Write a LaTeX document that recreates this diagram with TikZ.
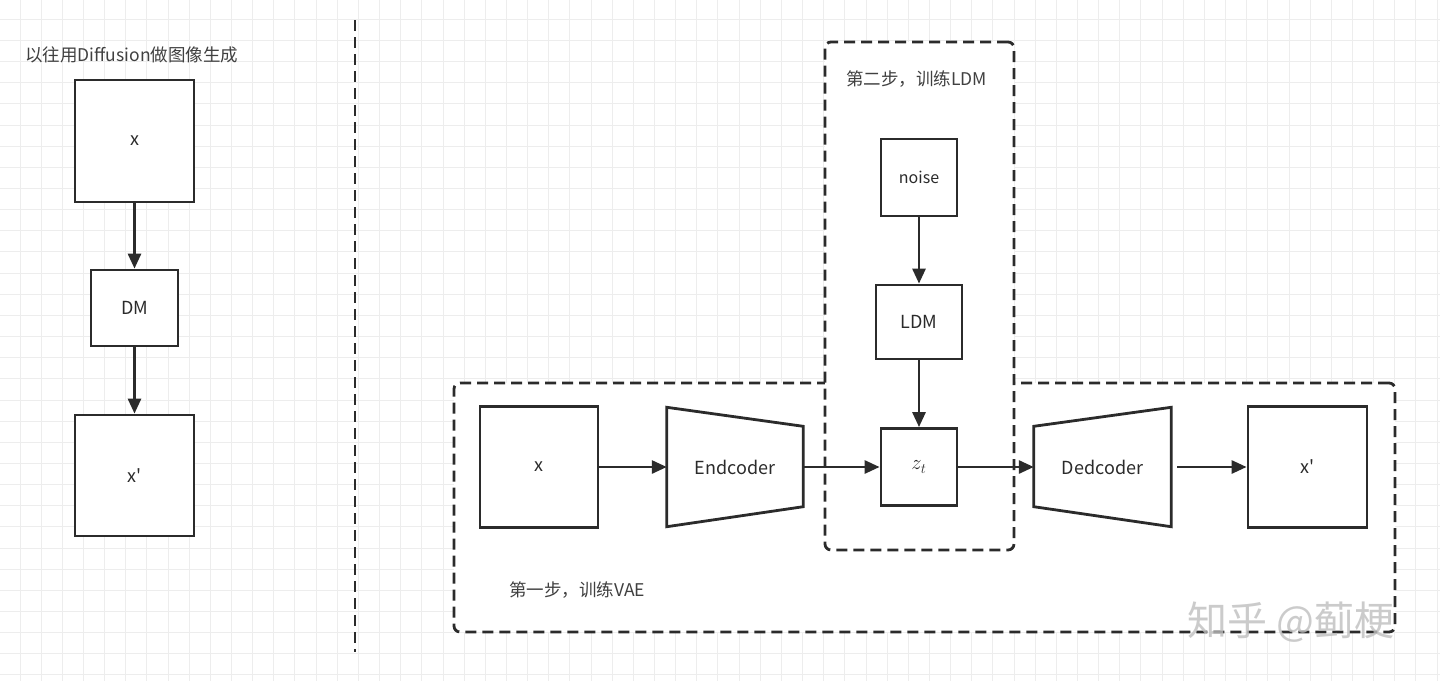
\documentclass[tikz,border=0pt]{standalone}
\usepackage{fontspec}
\setmainfont{Noto Sans CJK SC}
\usetikzlibrary{arrows.meta,positioning,calc}

\definecolor{ink}{HTML}{2B2B2B}
\definecolor{gridc}{HTML}{EDEDED}

\begin{document}
\begin{tikzpicture}[
  x=1pt, y=-1pt,
  box/.style={draw=ink, line width=2.8pt, fill=white, inner sep=0pt, text=ink, font=\fontsize{18}{21}\selectfont},
  group/.style={draw=ink, line width=2.8pt, dash pattern=on 11pt off 6pt, rounded corners=6pt, fill=white, inner sep=0pt},
  lbl/.style={text=ink!90, font=\fontsize{17.5}{21}\selectfont, anchor=west, inner sep=0pt},
  trap/.style={draw=ink, line width=2.8pt, fill=white, line join=miter},
  arr/.style={-{Triangle[length=15pt,width=13pt]}, line width=2.8pt, draw=ink}
]
  \useasboundingbox[fill=white] (0,0) rectangle (1440,681);
  % background grid
  \foreach \g in {-1.15,20,...,1445} {
    \draw[gridc, line width=1pt] (\g,0) -- (\g,681);
    \draw[gridc, line width=1pt] (0,\g-0.7) -- (1440,\g-0.7);
  }

  % old way: diffusion directly on pixels
  \node[lbl] (oldtitle) at (25,55) {以往用Diffusion做图像生成};
  \node[box, minimum width=119pt, minimum height=122pt] (x0) at (134.5,141) {x};
  \node[box, minimum width=87pt, minimum height=76pt] (dm) at (134.5,308) {DM};
  \node[box, minimum width=119pt, minimum height=121pt] (x0out) at (134.5,475.5) {x\textquotesingle};
  \draw[arr] (x0) -- (dm);
  \draw[arr] (dm) -- (x0out);

  % divider
  \coordinate (divtop) at (355,20);
  \coordinate (divbot) at (355,652);
  \draw[ink, line width=2.8pt, dash pattern=on 11pt off 6pt] (divtop) -- (divbot);

  % step 1 and step 2 groups
  \node[group, minimum width=941pt, minimum height=249pt] (vae) at (924.5,507.5) {};
  \node[group, minimum width=189pt, minimum height=508pt] (ldmgroup) at (919.5,296) {};
  \node[lbl] (step2) at (846,79) {第二步，训练LDM};
  \node[lbl] (step1) at (509,590) {第一步，训练VAE};

  % latent diffusion
  \node[box, minimum width=76pt, minimum height=77pt, font=\fontsize{16}{19}\selectfont] (noise) at (919,177.5) {noise};
  \node[box, minimum width=86pt, minimum height=74pt] (ldm) at (919,322) {LDM};
  \node[box, minimum width=76pt, minimum height=77pt, font=\fontsize{22}{24}\selectfont] (zt) at (919,467) {$z_t$};
  \draw[arr] (noise) -- (ldm);
  \draw[arr] (ldm) -- (zt);

  % autoencoder
  \node[box, minimum width=118pt, minimum height=121pt] (x1) at (539,467) {x};
  \node[minimum width=136pt, minimum height=119pt, inner sep=0pt] (enc) at (735,467) {};
  \draw[trap] (enc.north west) -- ($(enc.north east)+(0,19)$) -- ($(enc.south east)+(0,-20)$) -- (enc.south west) -- cycle;
  \node[text=ink, font=\fontsize{18}{21}\selectfont] (enclbl) at (enc) {Endcoder};
  \node[minimum width=137pt, minimum height=119pt, inner sep=0pt] (dec) at (1102.5,467) {};
  \draw[trap] ($(dec.north west)+(0,19)$) -- (dec.north east) -- (dec.south east) -- ($(dec.south west)+(0,-20)$) -- cycle;
  \node[text=ink, font=\fontsize{18}{21}\selectfont] (declbl) at (dec) {Dedcoder};
  \node[box, minimum width=119pt, minimum height=121pt] (x1out) at (1307.5,467) {x\textquotesingle};
  \draw[arr] (x1) -- (enc);
  \draw[arr] (enc) -- (zt);
  \draw[arr] (zt) -- (dec);
  \draw[arr, shorten <=6pt] (dec) -- (x1out);

  % watermark
  \node[text=gray!50, font=\fontsize{40}{40}\selectfont, opacity=0.8] (mark) at (1291,622) {知乎 @蓟梗};
\end{tikzpicture}
\end{document}
